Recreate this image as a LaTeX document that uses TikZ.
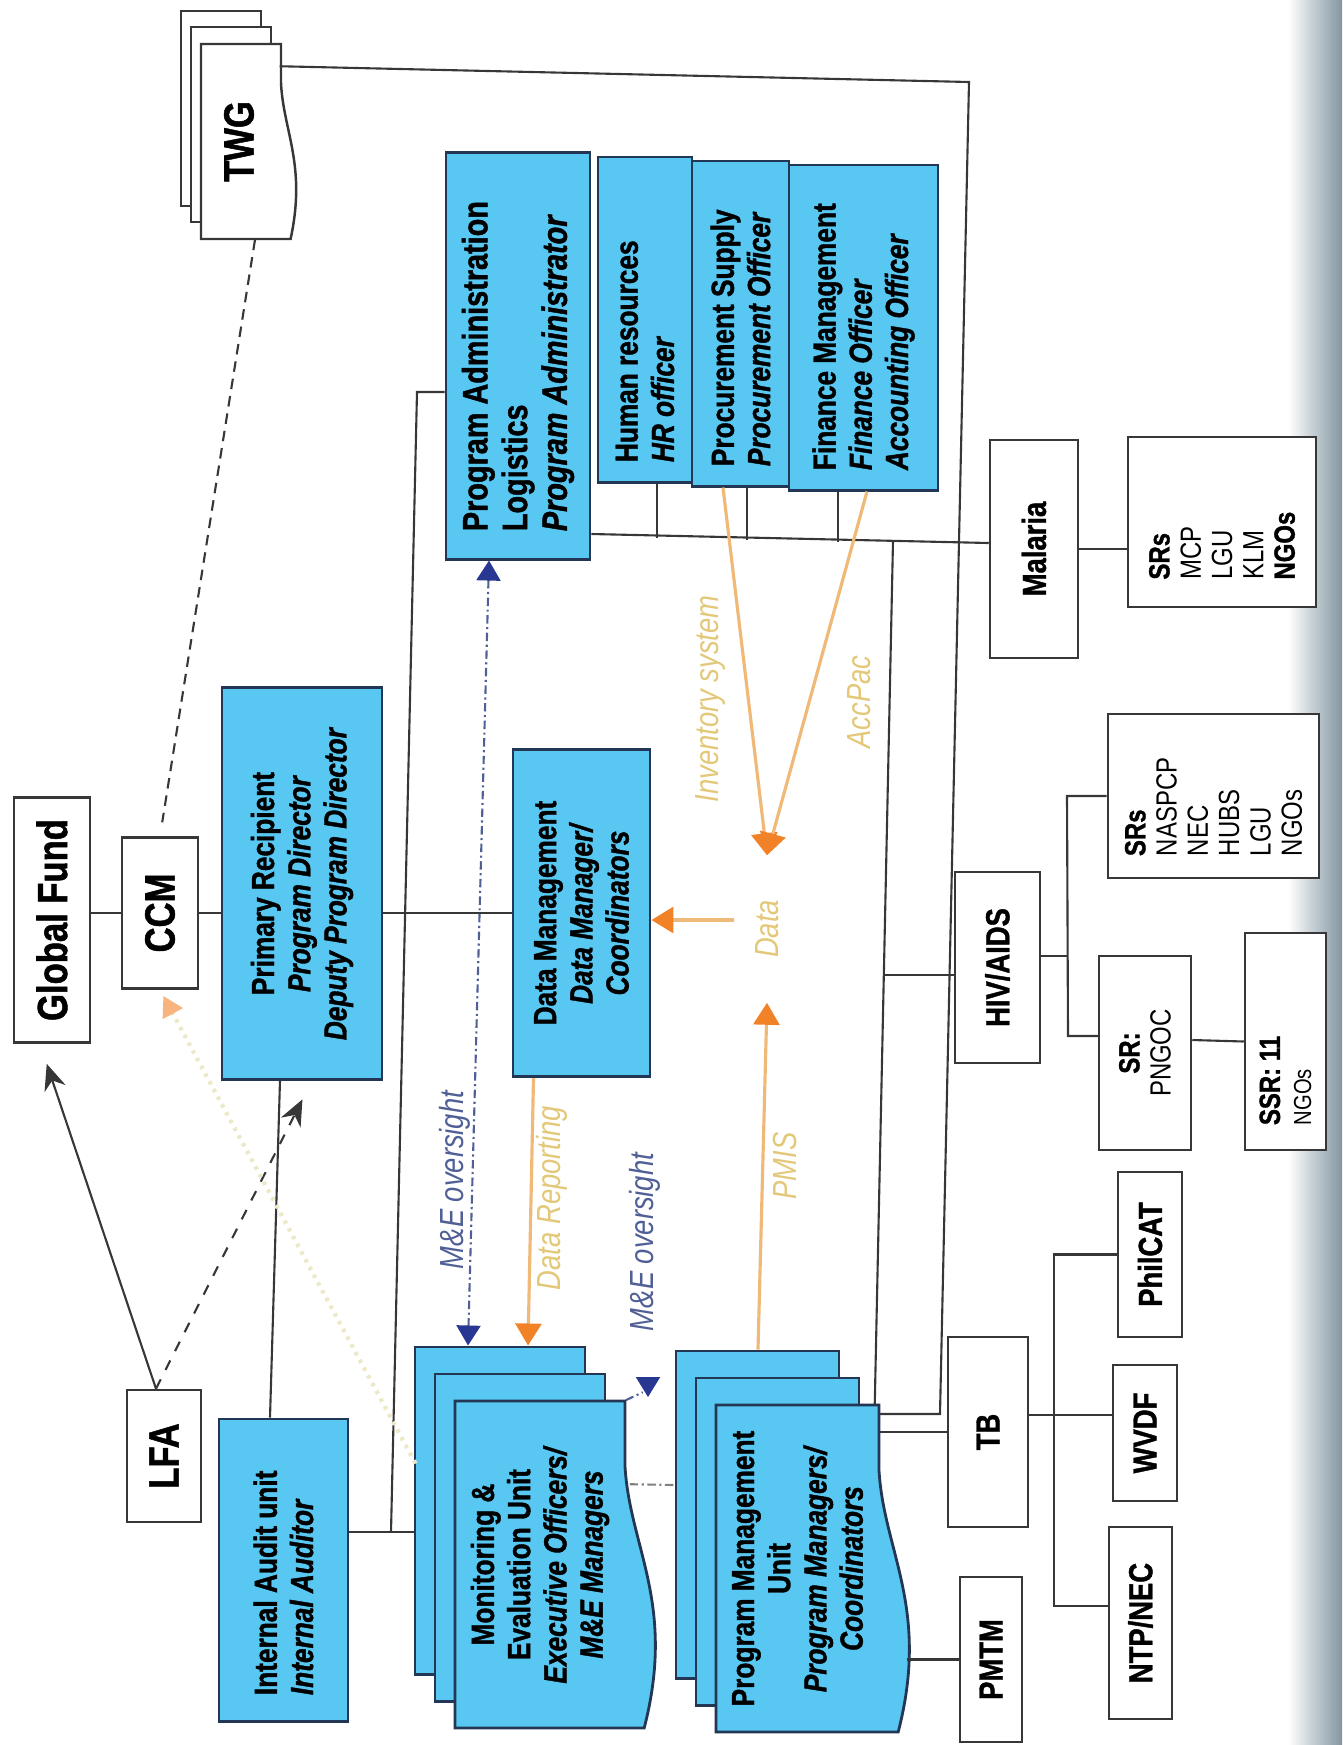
\documentclass[tikz,border=0pt]{standalone}
\usepackage{fontspec}
\setmainfont[FakeStretch=0.82, BoldFeatures={FakeBold=1.2}, BoldItalicFeatures={FakeBold=1.2}]{Liberation Sans}
\usetikzlibrary{arrows.meta, calc}
\definecolor{boxblue}{RGB}{88,200,242}
\definecolor{boxedge}{RGB}{35,55,85}
\definecolor{lineblack}{RGB}{55,55,55}
\definecolor{orangetip}{RGB}{242,130,40}
\definecolor{orangeline}{RGB}{240,185,120}
\definecolor{palelabel}{RGB}{226,200,120}
\definecolor{meblue}{RGB}{80,95,150}
\definecolor{metip}{RGB}{40,55,145}
\definecolor{ccmline}{RGB}{236,232,200}
\definecolor{scanedge}{RGB}{130,150,162}
\tikzstyle{bluefill} = [draw=boxedge, fill=boxblue, line width=0.8pt]
\tikzstyle{whitefill} = [draw=lineblack, fill=white, line width=0.7pt]
\tikzstyle{bluebox} = [rectangle, bluefill, inner sep=0pt]
\tikzstyle{whitebox} = [rectangle, whitefill, inner sep=0pt]
\tikzstyle{textonly} = [rectangle, inner sep=0pt]
\tikzstyle{link} = [draw=lineblack, line width=0.6pt]
\tikzstyle{arrow} = [link, -{Stealth[length=2.6mm, width=2.2mm]}]
\tikzstyle{twgdash} = [link, dash pattern=on 3pt off 2pt]
\tikzstyle{oversight} = [draw=meblue, line width=0.6pt, dash pattern=on 2.4pt off 1pt on 0.6pt off 1pt,
    >={Triangle[length=2mm, width=2.4mm, color=metip]}]
\tikzstyle{overgray} = [draw=gray, line width=0.6pt, dash pattern=on 2.4pt off 1pt on 0.6pt off 1pt]
\tikzstyle{dataflow} = [draw=orangeline, line width=0.9pt, >={Triangle[length=2.2mm, width=2.6mm, color=orangetip]}, ->]
\tikzstyle{ccmflow} = [draw=ccmline, line width=1.2pt, dash pattern=on 1pt off 1.5pt,
    >={Triangle[length=2mm, width=2.2mm, color=orangetip!60]}, ->]
\tikzstyle{lbl} = [font=\fontsize{9.5}{11}\selectfont\itshape, inner sep=0pt]
\newcommand{\bigfont}{\fontsize{12}{14}\selectfont\bfseries}
\newcommand{\midfont}{\fontsize{9.5}{11}\selectfont\bfseries}
\newcommand{\boxfont}{\fontsize{9.1}{10.3}\selectfont\bfseries}
\newcommand{\pafont}{\fontsize{10}{11.3}\selectfont\bfseries}
\newcommand{\smallfont}{\fontsize{8.3}{8.9}\selectfont}
\newcommand{\up}[1]{\rotatebox{90}{#1}}
\newcommand{\upc}[2]{\rotatebox{90}{\parbox{#1}{\centering #2}}}
\newcommand{\upl}[2]{\rotatebox{90}{\parbox{#1}{\raggedright #2}}}
\newcommand{\docfront}[6]{\filldraw[#1] (#2,#3) -- ({#2+#4},#3) -- ({#2+#4},{#3+0.2*#5})
    .. controls ({#2+#4+0.15*#6},{#3+0.45*#5}) and ({#2+#4+1.6*#6},{#3+0.62*#5}) .. ({#2+#4+0.6*#6},{#3+#5})
    -- (#2,{#3+#5}) -- cycle;}

\begin{document}
\begin{tikzpicture}[x=0.01cm, y=-0.01cm]
\useasboundingbox (0,0) rectangle (1342,1745);
\shade[left color=white, right color=scanedge] (1288,0) rectangle (1342,1745);

\node (gf) [whitebox, minimum width=0.76cm, minimum height=2.45cm, font=\bigfont] at (52,920) {\up{Global Fund}};
\node (ccm) [whitebox, minimum width=0.76cm, minimum height=1.51cm, font=\bigfont] at (160,913) {\up{CCM}};
\node (lfa) [whitebox, minimum width=0.74cm, minimum height=1.32cm, font=\bigfont] at (164,1456) {\up{LFA}};
\node (twgback) [whitebox, minimum width=0.80cm, minimum height=1.95cm] at (221,108.5) {};
\node (twgmid) [whitebox, minimum width=0.80cm, minimum height=1.95cm] at (231,124.5) {};
\docfront{whitefill}{201}{44}{80}{195}{16}
\node (twg) [textonly, minimum width=0.80cm, minimum height=1.95cm, font=\bigfont] at (239,141.5) {\up{TWG}};

\node (pr) [bluebox, minimum width=1.60cm, minimum height=3.91cm, font=\boxfont] at (302,883.5)
    {\upc{3.7cm}{\bfseries Primary Recipient\\ \textit{Program Director}\\ \textit{Deputy Program Director}}};
\node (ia) [bluebox, minimum width=1.29cm, minimum height=3.02cm, font=\boxfont] at (283.5,1570)
    {\upl{2.5cm}{\bfseries Internal Audit unit\\ \textit{Internal Auditor}}};
\node (meback) [bluebox, minimum width=1.70cm, minimum height=3.27cm] at (500,1510.5) {};
\node (memid) [bluebox, minimum width=1.70cm, minimum height=3.27cm] at (520,1537.5) {};
\docfront{bluefill}{455}{1401}{170}{327}{32}
\node (me) [textonly, minimum width=1.70cm, minimum height=3.27cm, font=\boxfont] at (540,1564.5)
    {\upc{3cm}{\bfseries Monitoring \&\\ Evaluation Unit\\ \textit{Executive Officers/}\\ \textit{M\&E Managers}}};
\node (pmuback) [bluebox, minimum width=1.63cm, minimum height=3.27cm] at (757.5,1514.5) {};
\node (pmumid) [bluebox, minimum width=1.63cm, minimum height=3.27cm] at (777.5,1541.5) {};
\docfront{bluefill}{716}{1405}{163}{327}{32}
\node (pmu) [textonly, minimum width=1.63cm, minimum height=3.27cm, font=\boxfont] at (797.5,1568.5)
    {\upc{3cm}{\bfseries Program Management\\ Unit\\ \textit{Program Managers/}\\ \textit{Coordinators}}};
\node (pa) [bluebox, minimum width=1.44cm, minimum height=4.06cm, font=\pafont] at (518,356)
    {\upl{3.5cm}{\bfseries Program Administration\\ Logistics\\ \textit{Program Administrator}}};
\node (hr) [bluebox, minimum width=0.94cm, minimum height=3.25cm, font=\boxfont] at (645,319.5)
    {\upl{2.85cm}{\bfseries Human resources\\ \textit{HR officer}}};
\node (proc) [bluebox, minimum width=0.97cm, minimum height=3.25cm, font=\boxfont] at (740.5,323.5)
    {\upl{2.85cm}{\bfseries Procurement Supply\\ \textit{Procurement Officer}}};
\node (fin) [bluebox, minimum width=1.49cm, minimum height=3.25cm, font=\boxfont] at (863.5,327.5)
    {\upl{2.85cm}{\bfseries Finance Management\\ \textit{Finance Officer}\\ \textit{Accounting Officer}}};
\node (dm) [bluebox, minimum width=1.37cm, minimum height=3.27cm, font=\boxfont] at (581.5,913)
    {\upc{3cm}{\bfseries Data Management\\ \textit{Data Manager/}\\ \textit{Coordinators}}};

\node (malaria) [whitebox, minimum width=0.88cm, minimum height=2.18cm, font=\midfont] at (1034,549) {\up{Malaria}};
\node (srsm) [whitebox, minimum width=1.88cm, minimum height=1.70cm, font=\smallfont] at (1222,522)
    {\upl{1.15cm}{\textbf{SRs}\\ MCP\\ LGU\\ KLM\\ \textbf{NGOs}}};
\node (hiv) [whitebox, minimum width=0.85cm, minimum height=1.91cm, font=\midfont] at (997.5,967.5) {\up{HIV/AIDS}};
\node (srsh) [whitebox, minimum width=2.11cm, minimum height=1.64cm, font=\smallfont] at (1213.5,796)
    {\upl{1.2cm}{\textbf{SRs}\\ NASPCP\\ NEC\\ HUBS\\ LGU\\ NGOs}};
\node (pngoc) [whitebox, minimum width=0.92cm, minimum height=1.94cm, font=\smallfont] at (1145,1053)
    {\upc{1.6cm}{\textbf{SR:}\\ PNGOC}};
\node (ssr) [whitebox, minimum width=0.81cm, minimum height=2.17cm, font=\smallfont] at (1285.5,1041.5)
    {\upl{1.67cm}{\textbf{SSR: 11}\\ {\fontsize{7}{8}\selectfont NGOs}}};
\node (tb) [whitebox, minimum width=0.80cm, minimum height=1.90cm, font=\midfont] at (988,1432) {\up{TB}};
\node (pmtm) [whitebox, minimum width=0.62cm, minimum height=1.65cm, font=\midfont] at (991,1659.5) {\up{PMTM}};
\node (philcat) [whitebox, minimum width=0.64cm, minimum height=1.65cm, font=\midfont] at (1150,1254.5) {\up{PhilCAT}};
\node (wvdf) [whitebox, minimum width=0.64cm, minimum height=1.36cm, font=\midfont] at (1145,1433) {\up{WVDF}};
\node (ntp) [whitebox, minimum width=0.63cm, minimum height=1.92cm, font=\midfont] at (1140.5,1623) {\up{NTP/NEC}};

\node (lblmeo) [lbl, text=meblue] at (455,1180) {\up{M\&E oversight}};
\node (lbldr) [lbl, text=palelabel] at (552,1198) {\up{Data Reporting}};
\node (lblmeo2) [lbl, text=meblue] at (645,1242) {\up{M\&E oversight}};
\node (lblpmis) [lbl, text=palelabel] at (785,1166) {\up{PMIS}};
\node (lblinv) [lbl, text=palelabel] at (710,699) {\up{Inventory system}};
\node (lblacc) [lbl, text=palelabel] at (859,702) {\up{AccPac}};
\node (data) [lbl, text=palelabel, minimum width=0.64cm, minimum height=1.46cm] at (767,929) {\up{Data}};

\coordinate (twgcorner) at (969,82);
\coordinate (twgfoot) at (940,1414);
\coordinate (spinetop) at (417,392);
\coordinate (spinefoot) at (391,1532);
\coordinate (innertop) at (893,541);
\coordinate (innerhiv) at (883.5,975);
\coordinate (tbjoin) at (1054,1415);
\coordinate (tbfoot) at (1054,1606);
\coordinate (hivtop) at (1067,796);
\coordinate (hivfoot) at (1068,1036);
\coordinate (meotip) at (648,1397);

\draw[link] (ccm) -- (ccm -| gf.east);
\draw[link] (ccm) -- (ccm -| pr.west);
\draw[link] (pr.east |- dm) -- (dm);
\draw[link] ($(twg.north east)+(0,23)$) -- (twgcorner) -- (twgfoot) -- (twgfoot -| pmu.east);
\draw[twgdash, shorten >=4pt] ($(twg.south)+(16,0)$) -- (ccm.north);
\draw[arrow, shorten >=6pt] ($(lfa.north)+(-8,0)$) -- ($(gf.south)+(-12,0)$);
\draw[arrow, dashed, shorten >=6pt] ($(lfa.north)+(-8,0)$) -- ($(pr.south)+(10,0)$);
\draw[link] ($(pr.south)+(-22,0)$) -- ($(ia.north)+(-13.5,0)$);
\draw[link] ($(pa.west)+(0,36)$) -- (spinetop) -- (spinefoot);
\draw[link] (spinefoot -| ia.east) -- (spinefoot -| meback.west);
\draw[link] ($(pa.east)+(0,178)$) -- ($(malaria.west)+(0,-6)$);
\draw[link] (hr.south) ++(12,0) -- ++(0,54);
\draw[link] (proc.south) ++(6.5,0) -- ++(0,52);
\draw[link] (fin.south) ++(-25.5,0) -- ++(0,50);
\draw[link] (innertop) -- ($(pmu.north east)+(-5,0)$);
\draw[link] (innerhiv) -- ($(hiv.west)+(0,7.5)$);
\draw[link] (pmu.east |- tb.west) -- (tb.west);
\draw[link] ($(tb.east)+(0,-17)$) -- (tbjoin) -- ($(wvdf.west)+(0,-18)$);
\draw[link] (philcat.west) -- (philcat.west -| tbjoin) -- (tbfoot) -- ($(ntp.west)+(0,-17)$);
\draw[link] (pmtm.west) -- ++(-52,0);
\draw[link] (malaria.east) -- (malaria.east -| srsm.west);
\draw[link] ($(hiv.east)+(0,-11.5)$) -- ++(27,0);
\draw[link] (srsh.west) -- (hivtop) -- (hivfoot) -- ($(pngoc.west)+(0,-17)$);
\draw[link] ($(pngoc.east)+(0,-13)$) -- (ssr.west);

\draw[oversight, <->] ($(pa.south)+(-29,0)$) -- ($(meback.north)+(-32,0)$);
\draw[oversight] (me.north east) -- ++(17,-8);
\draw[oversight, ->] (meotip) ++(0,-16) -- (meotip);
\draw[overgray] ($(me.north east)+(4,84)$) -- ($(pmuback.west)+(0,-29.5)$);
\draw[dataflow] ($(dm.south)+(-48,0)$) -- ($(meback.north)+(28,0)$);
\draw[dataflow] ($(pmuback.north)+(0.5,0)$) -- (data.south);
\draw[dataflow] ($(data.west)+(0,-9)$) -- ($(data.west -| dm.east)+(0,-9)$);
\draw[dataflow] ($(proc.south)+(-17.5,0)$) -- (data.north);
\draw[dataflow] ($(fin.south)+(3.5,0)$) -- (data.north);
\draw[ccmflow, shorten >=2pt] ($(meback.west)+(2,-47)$) -- (ccm.south);
\end{tikzpicture}
\end{document}
